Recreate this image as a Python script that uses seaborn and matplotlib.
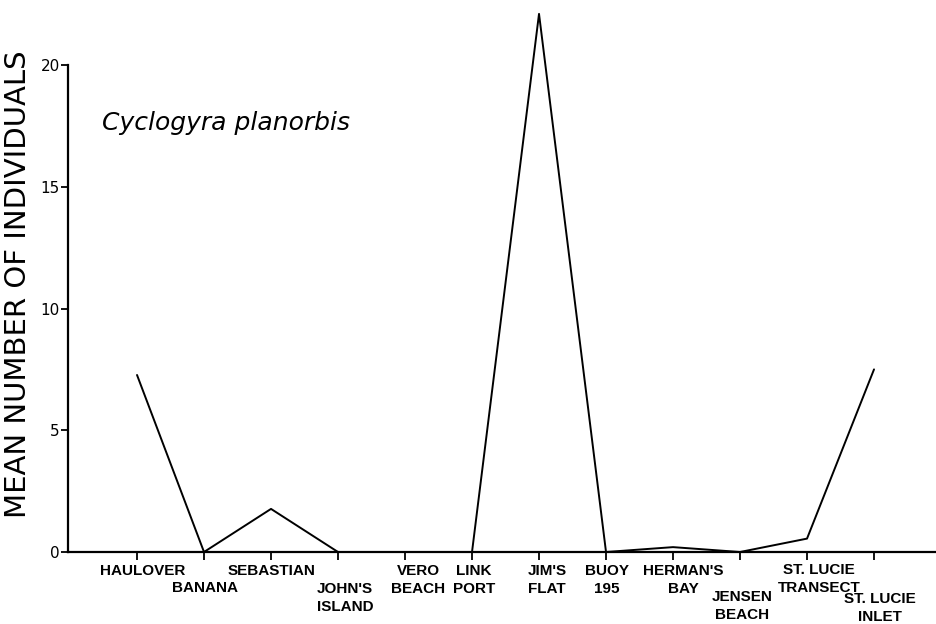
import pandas as pd
import seaborn as sns
import matplotlib.pyplot as plt
from matplotlib.transforms import ScaledTranslation

# stations along the lagoon, north to south
stations = ["HAULOVER", "BANANA", "SEBASTIAN", "JOHN'S\nISLAND", "VERO\nBEACH",
            "LINK\nPORT", "JIM'S\nFLAT", "BUOY\n195", "HERMAN'S\nBAY",
            "JENSEN\nBEACH", "ST. LUCIE\nTRANSECT", "ST. LUCIE\nINLET"]
mean_individuals = [7.27, 0.0, 1.77, 0.0, 0.0, 0.0, 22.1, 0.0, 0.2, 0.0, 0.55, 7.5]
y_ticks = [0, 5, 10, 15, 20]

# label nudges in pixels (dx right, dy down from the axis line)
label_shift = [(6, 19), (1, 36), (1, 19), (7, 46), (13, 28), (2, 28),
               (8, 28), (1, 28), (10, 28), (2, 54), (12, 27), (6, 56)]

df = pd.DataFrame({"station": range(len(stations)), "mean": mean_individuals})

sns.set_style("ticks")
plt.rcParams['font.family'] = ['DejaVu Sans']
plt.rcParams['text.color'] = 'black'
plt.rcParams['axes.labelcolor'] = 'black'

fig = plt.figure(figsize=(9.37, 6.24), dpi=100)
ax = fig.add_axes([68/937, 72/624, 869/937, 552/624])

sns.lineplot(data=df, x="station", y="mean", color="black", linewidth=1.4,
             sort=False, ax=ax, clip_on=False)

ax.set_xlim(-1.03, 11.94)
ax.set_ylim(0, 22.67)
ax.set_yticks(y_ticks)
ax.set_yticklabels([str(v) for v in y_ticks], fontsize=11)
ax.set_xticks(range(len(stations)))
ax.set_xticklabels([""] * len(stations))
ax.tick_params(axis="y", direction="out", length=5, width=1.3, pad=1, colors="black")
ax.tick_params(axis="x", direction="out", length=6, width=1.3, colors="black")

sns.despine(ax=ax)
ax.spines["left"].set_bounds(0, 20)
ax.spines["left"].set_linewidth(1.6)
ax.spines["bottom"].set_linewidth(1.6)
ax.spines["left"].set_color("black")
ax.spines["bottom"].set_color("black")

# staggered station names under the ticks
for i, (name, (dx, dy)) in enumerate(zip(stations, label_shift)):
    tr = ax.get_xaxis_transform() + ScaledTranslation(dx/100, -dy/100, fig.dpi_scale_trans)
    ax.text(i, 0, name, transform=tr, ha="center", va="center", multialignment="center",
            fontsize=11, fontweight="bold", family="Liberation Sans", linespacing=1.35,
            color="black")

ax.set_ylabel("MEAN NUMBER OF INDIVIDUALS", fontsize=21, color="black")
ax.yaxis.label.set_va("center")
ax.yaxis.set_label_coords(-0.0575, 0.486)

ax.text(0.039, 0.7645, "Cyclogyra planorbis", transform=ax.transAxes,
        fontsize=18, fontstyle="italic", va="baseline", ha="left", color="black")

ax.set_xlabel("")
plt.savefig("out.png", dpi=100)
